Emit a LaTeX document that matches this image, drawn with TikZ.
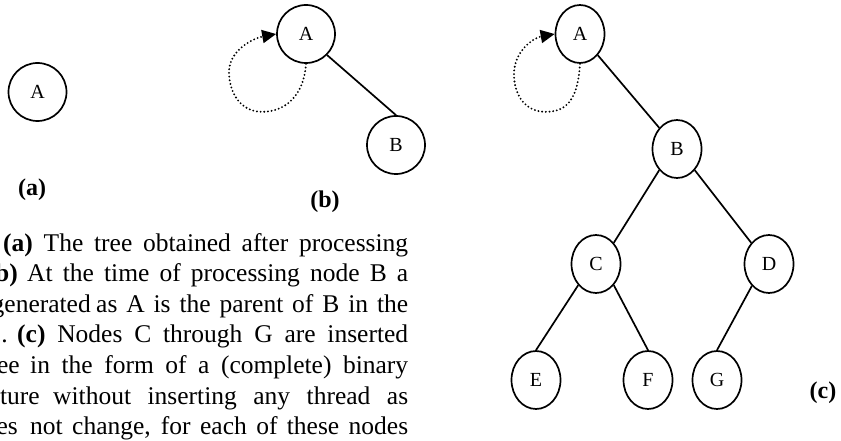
\documentclass[tikz,border=0pt]{standalone}
\usepackage{fontspec}
\setmainfont{Liberation Serif}
\usetikzlibrary{shapes.geometric,arrows.meta}
\begin{document}
\begin{tikzpicture}[x=1pt,y=-1pt,
  vertex/.style={draw,line width=1.7pt,circle,minimum size=58pt,inner sep=0pt,
    font=\fontsize{20}{24}\selectfont},
  tvertex/.style={draw,line width=1.7pt,ellipse,minimum width=49pt,minimum height=58pt,
    inner sep=0pt,font=\fontsize{20}{24}\selectfont},
  link/.style={line width=1.7pt},
  thread/.style={line width=2.1pt,line cap=round,dash pattern=on 0pt off 3.7pt,
    -{Triangle[length=14pt,width=13pt]}},
  sublabel/.style={inner sep=0pt,font=\bfseries\fontsize{24}{28}\selectfont},
  txt/.style={inner sep=0pt,anchor=base west,font=\fontsize{25.5}{30.6}\selectfont},
  txtcut/.style={txt,anchor=base east}]
\useasboundingbox (0,0) rectangle (841,441);
\clip (0,0) rectangle (841,441);

% (a) single node
\node[vertex] (Aa) at (37.5,92) {A};
\node[sublabel] (la) at (32,190) {(a)};

% (b) two nodes with a thread on the root
\node[vertex] (Ab) at (306,34) {A};
\node[vertex] (Bb) at (396,145) {B};
\draw[link] (Ab.-45) -- (Bb.north);
\draw[thread] (Ab.south) .. controls +(-2,32) and +(23,0) .. ++(-44,48)
  .. controls +(-22,0) and +(0,20) .. ++(-33,-40)
  .. controls +(0,-22) and +(-22,4) .. (Ab.west);
\node[sublabel] (lb) at (325,202) {(b)};

% (c) complete binary tree
\node[tvertex] (Ac) at (580,34) {A};
\node[tvertex] (Bc) at (677,149) {B};
\node[tvertex] (Cc) at (596,264) {C};
\node[tvertex] (Dc) at (769,264) {D};
\node[tvertex] (Ec) at (536,380) {E};
\node[tvertex] (Fc) at (648,380) {F};
\node[tvertex] (Gc) at (717,380) {G};
\draw[link] (Ac.-50) -- (Bc.130);
\draw[link] (Bc.-130) -- (Cc.50);
\draw[link] (Bc.-50) -- (Dc.130);
\draw[link] (Cc.-130) -- (Ec.north);
\draw[link] (Cc.-50) -- (Fc.north);
\draw[link] (Dc.-128) -- (Gc.north);
\draw[thread] (Ac.south) .. controls +(-2,32) and +(23,0) .. ++(-34,48)
  .. controls +(-22,0) and +(0,20) .. ++(-32,-38)
  .. controls +(0,-22) and +(-22,4) .. (Ac.west);
\node[sublabel] (lc) at (823,393) {(c)};

% caption paragraph, justified lines
\node[txt] (t1) at (3,251) {\makebox[405pt][s]{\textbf{(a)} The tree obtained after processing}};
\node[txtcut] (f2) at (18,281.6) {\textbf{b)}};
\node[txt] (t2) at (27,281.6) {\makebox[381pt][s]{At the time of processing node B a}};
\node[txtcut] (f3) at (91,312.2) {generated};
\node[txt] (t3) at (96,312.2) {\makebox[312pt][s]{as A is the parent of B in the}};
\node[txtcut] (f4) at (8,342.8) {.};
\node[txt] (t4) at (17,342.8) {\makebox[391pt][s]{\textbf{(c)} Nodes C through G are inserted}};
\node[txtcut] (f5) at (20,373.4) {ee};
\node[txt] (t5) at (30,373.4) {\makebox[378pt][s]{in the form of a (complete) binary}};
\node[txtcut] (f6) at (40,404) {ture};
\node[txt] (t6) at (53,404) {\makebox[355pt][s]{without inserting any thread as}};
\node[txtcut] (f7) at (18,434.6) {es};
\node[txt] (t7) at (30,434.6) {\makebox[378pt][s]{not change, for each of these nodes}};
\end{tikzpicture}
\end{document}
